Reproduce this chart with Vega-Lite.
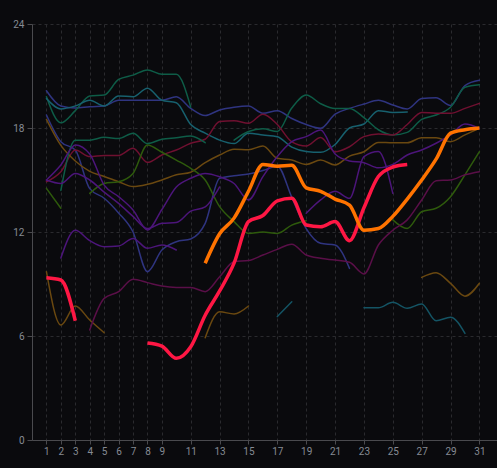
{
"$schema":"https://vega.github.io/schema/vega-lite/v6.json",
"width":465,"height":416,
"autosize":{"type":"none"},
"padding":{"left":32,"top":24,"right":0,"bottom":28},
"background":"#0a0a0d",
"config":{"view":{"stroke":null},"axis":{"labelFont":"Roboto","labelColor":"#868b94","labelFontSize":10,"domainColor":"#4a4a4e","tickColor":"#4a4a4e","gridColor":"#2a2a2e","gridDash":[3,3],"gridWidth":1}},
"datasets":{"pts":[
{"s":"n1","g":"n1","d":1,"v":20.15},{"s":"n1","g":"n1","d":2,"v":19.27},{"s":"n1","g":"n1","d":3,"v":19.15},{"s":"n1","g":"n1","d":4,"v":19.23},{"s":"n1","g":"n1","d":5,"v":19.27},{"s":"n1","g":"n1","d":6,"v":19.6},{"s":"n1","g":"n1","d":7,"v":19.6},{"s":"n1","g":"n1","d":8,"v":19.6},{"s":"n1","g":"n1","d":9,"v":19.6},{"s":"n1","g":"n1","d":10,"v":19.8},{"s":"n1","g":"n1","d":11,"v":19.13},{"s":"n1","g":"n1","d":12,"v":18.72},{"s":"n1","g":"n1","d":13,"v":19.04},{"s":"n1","g":"n1","d":14,"v":19.2},{"s":"n1","g":"n1","d":15,"v":19.27},{"s":"n1","g":"n1","d":16,"v":18.85},{"s":"n1","g":"n1","d":17,"v":19.0},{"s":"n1","g":"n1","d":18,"v":18.55},{"s":"n1","g":"n1","d":19,"v":18.2},{"s":"n1","g":"n1","d":20,"v":17.98},{"s":"n1","g":"n1","d":21,"v":18.8},{"s":"n1","g":"n1","d":22,"v":19.13},{"s":"n1","g":"n1","d":23,"v":19.38},{"s":"n1","g":"n1","d":24,"v":19.6},{"s":"n1","g":"n1","d":25,"v":19.33},{"s":"n1","g":"n1","d":26,"v":19.1},{"s":"n1","g":"n1","d":27,"v":19.7},{"s":"n1","g":"n1","d":28,"v":19.75},{"s":"n1","g":"n1","d":29,"v":19.3},{"s":"n1","g":"n1","d":30,"v":20.45},{"s":"n1","g":"n1","d":31,"v":20.75},
{"s":"n2","g":"n2","d":1,"v":18.75},{"s":"n2","g":"n2","d":2,"v":17.21},{"s":"n2","g":"n2","d":3,"v":16.73},{"s":"n2","g":"n2","d":4,"v":14.5},{"s":"n2","g":"n2","d":5,"v":13.95},{"s":"n2","g":"n2","d":6,"v":13.1},{"s":"n2","g":"n2","d":7,"v":12.0},{"s":"n2","g":"n2","d":8,"v":9.71},{"s":"n2","g":"n2","d":9,"v":10.96},{"s":"n2","g":"n2","d":10,"v":11.44},{"s":"n2","g":"n2","d":11,"v":11.6},{"s":"n2","g":"n2","d":12,"v":12.5},{"s":"n2","g":"n2","d":13,"v":15.1},{"s":"n2","g":"n2","d":14,"v":15.25},{"s":"n2","g":"n2","d":15,"v":15.35},{"s":"n2","g":"n2","d":16,"v":15.55},{"s":"n2","g":"n2","d":17,"v":15.8},{"s":"n2","g":"n2","d":18,"v":14.0},{"s":"n2","g":"n2","d":19,"v":12.2},{"s":"n2","g":"n2","d":20,"v":11.35},{"s":"n2","g":"n2","d":21,"v":11.25},{"s":"n2","g":"n2","d":22,"v":9.9},
{"s":"g1","g":"g1","d":1,"v":19.8},{"s":"g1","g":"g1","d":2,"v":18.3},{"s":"g1","g":"g1","d":3,"v":19.0},{"s":"g1","g":"g1","d":4,"v":19.85},{"s":"g1","g":"g1","d":5,"v":19.9},{"s":"g1","g":"g1","d":6,"v":20.8},{"s":"g1","g":"g1","d":7,"v":21.05},{"s":"g1","g":"g1","d":8,"v":21.35},{"s":"g1","g":"g1","d":9,"v":21.1},{"s":"g1","g":"g1","d":10,"v":21.1},{"s":"g1","g":"g1","d":11,"v":19.2},
{"s":"t1","g":"t1","d":1,"v":19.7},{"s":"t1","g":"t1","d":2,"v":19.1},{"s":"t1","g":"t1","d":3,"v":19.27},{"s":"t1","g":"t1","d":4,"v":19.6},{"s":"t1","g":"t1","d":5,"v":19.27},{"s":"t1","g":"t1","d":6,"v":19.85},{"s":"t1","g":"t1","d":7,"v":19.8},{"s":"t1","g":"t1","d":8,"v":20.3},{"s":"t1","g":"t1","d":9,"v":19.6},{"s":"t1","g":"t1","d":10,"v":19.46},{"s":"t1","g":"t1","d":11,"v":18.2},{"s":"t1","g":"t1","d":12,"v":17.7},{"s":"t1","g":"t1","d":13,"v":17.3},{"s":"t1","g":"t1","d":14,"v":17.1},{"s":"t1","g":"t1","d":15,"v":17.7},{"s":"t1","g":"t1","d":16,"v":17.6},{"s":"t1","g":"t1","d":17,"v":17.5},{"s":"t1","g":"t1","d":18,"v":16.9},{"s":"t1","g":"t1","d":19,"v":16.65},{"s":"t1","g":"t1","d":20,"v":16.6},{"s":"t1","g":"t1","d":21,"v":17.05},{"s":"t1","g":"t1","d":22,"v":18.0},{"s":"t1","g":"t1","d":23,"v":18.23},{"s":"t1","g":"t1","d":24,"v":19.0},{"s":"t1","g":"t1","d":25,"v":18.9},{"s":"t1","g":"t1","d":26,"v":18.92},
{"s":"g2","g":"g2","d":14,"v":17.3},{"s":"g2","g":"g2","d":15,"v":17.8},{"s":"g2","g":"g2","d":16,"v":17.95},{"s":"g2","g":"g2","d":17,"v":17.8},{"s":"g2","g":"g2","d":18,"v":19.15},{"s":"g2","g":"g2","d":19,"v":19.9},{"s":"g2","g":"g2","d":20,"v":19.4},{"s":"g2","g":"g2","d":21,"v":19.12},{"s":"g2","g":"g2","d":22,"v":19.13},{"s":"g2","g":"g2","d":23,"v":18.6},{"s":"g2","g":"g2","d":24,"v":17.9},{"s":"g2","g":"g2","d":25,"v":17.6},{"s":"g2","g":"g2","d":26,"v":17.75},{"s":"g2","g":"g2","d":27,"v":18.5},{"s":"g2","g":"g2","d":28,"v":18.75},{"s":"g2","g":"g2","d":29,"v":19.2},{"s":"g2","g":"g2","d":30,"v":20.35},{"s":"g2","g":"g2","d":31,"v":20.5},
{"s":"c1","g":"c1","d":1,"v":14.9},{"s":"c1","g":"c1","d":2,"v":15.48},{"s":"c1","g":"c1","d":3,"v":16.73},{"s":"c1","g":"c1","d":4,"v":16.35},{"s":"c1","g":"c1","d":5,"v":16.42},{"s":"c1","g":"c1","d":6,"v":16.42},{"s":"c1","g":"c1","d":7,"v":16.83},{"s":"c1","g":"c1","d":8,"v":16.02},{"s":"c1","g":"c1","d":9,"v":16.44},{"s":"c1","g":"c1","d":10,"v":16.73},{"s":"c1","g":"c1","d":11,"v":17.12},{"s":"c1","g":"c1","d":12,"v":17.35},{"s":"c1","g":"c1","d":13,"v":18.37},{"s":"c1","g":"c1","d":14,"v":18.42},{"s":"c1","g":"c1","d":15,"v":18.27},{"s":"c1","g":"c1","d":16,"v":18.79},{"s":"c1","g":"c1","d":17,"v":18.2},{"s":"c1","g":"c1","d":18,"v":17.2},{"s":"c1","g":"c1","d":19,"v":16.96},{"s":"c1","g":"c1","d":20,"v":17.45},{"s":"c1","g":"c1","d":21,"v":16.63},{"s":"c1","g":"c1","d":22,"v":16.92},{"s":"c1","g":"c1","d":23,"v":17.5},{"s":"c1","g":"c1","d":24,"v":17.65},{"s":"c1","g":"c1","d":25,"v":17.6},{"s":"c1","g":"c1","d":26,"v":18.2},{"s":"c1","g":"c1","d":27,"v":18.9},{"s":"c1","g":"c1","d":28,"v":18.85},{"s":"c1","g":"c1","d":29,"v":18.85},{"s":"c1","g":"c1","d":30,"v":19.13},{"s":"c1","g":"c1","d":31,"v":19.42},
{"s":"b1","g":"b1","d":1,"v":18.5},{"s":"b1","g":"b1","d":2,"v":17.0},{"s":"b1","g":"b1","d":3,"v":16.1},{"s":"b1","g":"b1","d":4,"v":15.5},{"s":"b1","g":"b1","d":5,"v":15.2},{"s":"b1","g":"b1","d":6,"v":14.9},{"s":"b1","g":"b1","d":7,"v":14.62},{"s":"b1","g":"b1","d":8,"v":14.75},{"s":"b1","g":"b1","d":9,"v":15.0},{"s":"b1","g":"b1","d":10,"v":15.3},{"s":"b1","g":"b1","d":11,"v":15.45},{"s":"b1","g":"b1","d":12,"v":16.0},{"s":"b1","g":"b1","d":13,"v":16.44},{"s":"b1","g":"b1","d":14,"v":16.77},{"s":"b1","g":"b1","d":15,"v":16.75},{"s":"b1","g":"b1","d":16,"v":16.96},{"s":"b1","g":"b1","d":17,"v":16.25},{"s":"b1","g":"b1","d":18,"v":16.15},{"s":"b1","g":"b1","d":19,"v":15.9},{"s":"b1","g":"b1","d":20,"v":16.15},{"s":"b1","g":"b1","d":21,"v":15.87},{"s":"b1","g":"b1","d":22,"v":16.38},{"s":"b1","g":"b1","d":23,"v":16.63},{"s":"b1","g":"b1","d":24,"v":17.17},{"s":"b1","g":"b1","d":25,"v":17.15},{"s":"b1","g":"b1","d":26,"v":17.15},{"s":"b1","g":"b1","d":27,"v":17.44},{"s":"b1","g":"b1","d":28,"v":17.44},{"s":"b1","g":"b1","d":29,"v":17.21},{"s":"b1","g":"b1","d":30,"v":17.6},{"s":"b1","g":"b1","d":31,"v":17.98},
{"s":"b2","g":"b2a","d":1,"v":9.71},{"s":"b2","g":"b2a","d":2,"v":6.63},{"s":"b2","g":"b2a","d":3,"v":7.73},{"s":"b2","g":"b2a","d":4,"v":6.92},{"s":"b2","g":"b2a","d":5,"v":6.19},
{"s":"b2","g":"b2b","d":12,"v":5.9},{"s":"b2","g":"b2b","d":13,"v":7.4},{"s":"b2","g":"b2b","d":14,"v":7.27},{"s":"b2","g":"b2b","d":15,"v":7.73},
{"s":"b2","g":"b2c","d":27,"v":9.38},{"s":"b2","g":"b2c","d":28,"v":9.65},{"s":"b2","g":"b2c","d":29,"v":9.04},{"s":"b2","g":"b2c","d":30,"v":8.3},{"s":"b2","g":"b2c","d":31,"v":9.04},
{"s":"gr","g":"gra","d":1,"v":14.52},{"s":"gr","g":"gra","d":2,"v":13.37},
{"s":"gr","g":"grb","d":4,"v":14.23},{"s":"gr","g":"grb","d":5,"v":14.8},{"s":"gr","g":"grb","d":6,"v":14.9},{"s":"gr","g":"grb","d":7,"v":15.38},{"s":"gr","g":"grb","d":8,"v":17.02},{"s":"gr","g":"grb","d":9,"v":16.6},{"s":"gr","g":"grb","d":10,"v":16.15},{"s":"gr","g":"grb","d":11,"v":15.67},{"s":"gr","g":"grb","d":12,"v":15.0},{"s":"gr","g":"grb","d":13,"v":13.46},{"s":"gr","g":"grb","d":14,"v":12.6},{"s":"gr","g":"grb","d":15,"v":11.92},{"s":"gr","g":"grb","d":16,"v":12.0},{"s":"gr","g":"grb","d":17,"v":11.92},{"s":"gr","g":"grb","d":18,"v":12.4},{"s":"gr","g":"grb","d":19,"v":12.65},
{"s":"gr","g":"grc","d":25,"v":12.7},{"s":"gr","g":"grc","d":26,"v":12.2},{"s":"gr","g":"grc","d":27,"v":13.17},{"s":"gr","g":"grc","d":28,"v":13.37},{"s":"gr","g":"grc","d":29,"v":14.04},{"s":"gr","g":"grc","d":30,"v":15.3},{"s":"gr","g":"grc","d":31,"v":16.63},
{"s":"g3","g":"g3","d":2,"v":14.4},{"s":"g3","g":"g3","d":3,"v":17.3},{"s":"g3","g":"g3","d":4,"v":17.3},{"s":"g3","g":"g3","d":5,"v":17.46},{"s":"g3","g":"g3","d":6,"v":17.4},{"s":"g3","g":"g3","d":7,"v":17.7},{"s":"g3","g":"g3","d":8,"v":17.1},{"s":"g3","g":"g3","d":9,"v":17.35},{"s":"g3","g":"g3","d":10,"v":17.44},{"s":"g3","g":"g3","d":11,"v":17.54},{"s":"g3","g":"g3","d":12,"v":17.15},
{"s":"p1","g":"p1","d":1,"v":15.0},{"s":"p1","g":"p1","d":2,"v":15.87},{"s":"p1","g":"p1","d":3,"v":17.02},{"s":"p1","g":"p1","d":4,"v":16.5},{"s":"p1","g":"p1","d":5,"v":14.7},{"s":"p1","g":"p1","d":6,"v":14.04},{"s":"p1","g":"p1","d":7,"v":13.27},{"s":"p1","g":"p1","d":8,"v":12.12},{"s":"p1","g":"p1","d":9,"v":13.3},{"s":"p1","g":"p1","d":10,"v":14.6},{"s":"p1","g":"p1","d":11,"v":15.1},{"s":"p1","g":"p1","d":12,"v":15.38},{"s":"p1","g":"p1","d":13,"v":15.19},{"s":"p1","g":"p1","d":14,"v":14.8},{"s":"p1","g":"p1","d":15,"v":13.85},{"s":"p1","g":"p1","d":16,"v":15.19},{"s":"p1","g":"p1","d":17,"v":16.35},{"s":"p1","g":"p1","d":18,"v":17.21},{"s":"p1","g":"p1","d":19,"v":17.5},{"s":"p1","g":"p1","d":20,"v":17.88},{"s":"p1","g":"p1","d":21,"v":16.5},{"s":"p1","g":"p1","d":22,"v":16.1},{"s":"p1","g":"p1","d":23,"v":16.0},{"s":"p1","g":"p1","d":24,"v":15.7},{"s":"p1","g":"p1","d":25,"v":15.9},{"s":"p1","g":"p1","d":26,"v":16.44},{"s":"p1","g":"p1","d":27,"v":16.73},{"s":"p1","g":"p1","d":28,"v":17.12},{"s":"p1","g":"p1","d":29,"v":17.6},{"s":"p1","g":"p1","d":30,"v":18.23},{"s":"p1","g":"p1","d":31,"v":17.98},
{"s":"p2","g":"p2","d":1,"v":15.0},{"s":"p2","g":"p2","d":2,"v":14.8},{"s":"p2","g":"p2","d":3,"v":15.38},{"s":"p2","g":"p2","d":4,"v":15.0},{"s":"p2","g":"p2","d":5,"v":14.3},{"s":"p2","g":"p2","d":6,"v":13.65},{"s":"p2","g":"p2","d":7,"v":12.9},{"s":"p2","g":"p2","d":8,"v":12.2},{"s":"p2","g":"p2","d":9,"v":12.5},{"s":"p2","g":"p2","d":10,"v":12.55},{"s":"p2","g":"p2","d":11,"v":13.2},{"s":"p2","g":"p2","d":12,"v":13.45},{"s":"p2","g":"p2","d":13,"v":14.6},
{"s":"p3","g":"p3","d":2,"v":10.5},{"s":"p3","g":"p3","d":3,"v":12.1},{"s":"p3","g":"p3","d":4,"v":11.5},{"s":"p3","g":"p3","d":5,"v":11.15},{"s":"p3","g":"p3","d":6,"v":11.19},{"s":"p3","g":"p3","d":7,"v":11.63},{"s":"p3","g":"p3","d":8,"v":11.06},{"s":"p3","g":"p3","d":9,"v":11.25},{"s":"p3","g":"p3","d":10,"v":10.96},
{"s":"p4","g":"p4","d":19,"v":13.08},{"s":"p4","g":"p4","d":20,"v":13.85},{"s":"p4","g":"p4","d":21,"v":14.35},{"s":"p4","g":"p4","d":22,"v":13.94},{"s":"p4","g":"p4","d":23,"v":16.35},{"s":"p4","g":"p4","d":24,"v":16.65},{"s":"p4","g":"p4","d":25,"v":14.23},
{"s":"m1","g":"m1","d":4,"v":6.35},{"s":"m1","g":"m1","d":5,"v":8.17},{"s":"m1","g":"m1","d":6,"v":8.56},{"s":"m1","g":"m1","d":7,"v":9.27},{"s":"m1","g":"m1","d":8,"v":9.08},{"s":"m1","g":"m1","d":9,"v":8.88},{"s":"m1","g":"m1","d":10,"v":8.8},{"s":"m1","g":"m1","d":11,"v":8.8},{"s":"m1","g":"m1","d":12,"v":8.56},{"s":"m1","g":"m1","d":13,"v":9.42},{"s":"m1","g":"m1","d":14,"v":10.29},{"s":"m1","g":"m1","d":15,"v":10.35},{"s":"m1","g":"m1","d":16,"v":10.67},{"s":"m1","g":"m1","d":17,"v":11.0},{"s":"m1","g":"m1","d":18,"v":11.3},{"s":"m1","g":"m1","d":19,"v":10.67},{"s":"m1","g":"m1","d":20,"v":10.48},{"s":"m1","g":"m1","d":21,"v":10.38},{"s":"m1","g":"m1","d":22,"v":10.25},{"s":"m1","g":"m1","d":23,"v":9.58},{"s":"m1","g":"m1","d":24,"v":11.25},{"s":"m1","g":"m1","d":25,"v":12.1},{"s":"m1","g":"m1","d":26,"v":12.7},{"s":"m1","g":"m1","d":27,"v":13.85},{"s":"m1","g":"m1","d":28,"v":14.96},{"s":"m1","g":"m1","d":29,"v":15.0},{"s":"m1","g":"m1","d":30,"v":15.3},{"s":"m1","g":"m1","d":31,"v":15.48},
{"s":"t2","g":"t2a","d":17,"v":7.12},{"s":"t2","g":"t2a","d":18,"v":7.98},
{"s":"t2","g":"t2b","d":23,"v":7.63},{"s":"t2","g":"t2b","d":24,"v":7.63},{"s":"t2","g":"t2b","d":25,"v":7.94},{"s":"t2","g":"t2b","d":26,"v":7.6},{"s":"t2","g":"t2b","d":27,"v":7.85},{"s":"t2","g":"t2b","d":28,"v":6.88},{"s":"t2","g":"t2b","d":29,"v":7.08},{"s":"t2","g":"t2b","d":30,"v":6.15},
{"s":"red","g":"reda","d":1,"v":9.36},{"s":"red","g":"reda","d":2,"v":9.23},{"s":"red","g":"reda","d":3,"v":6.88},
{"s":"red","g":"redb","d":8,"v":5.6},{"s":"red","g":"redb","d":9,"v":5.42},{"s":"red","g":"redb","d":10,"v":4.71},{"s":"red","g":"redb","d":11,"v":5.38},{"s":"red","g":"redb","d":12,"v":7.2},{"s":"red","g":"redb","d":13,"v":8.6},{"s":"red","g":"redb","d":14,"v":10.2},{"s":"red","g":"redb","d":15,"v":12.6},{"s":"red","g":"redb","d":16,"v":12.95},{"s":"red","g":"redb","d":17,"v":13.8},{"s":"red","g":"redb","d":18,"v":13.95},{"s":"red","g":"redb","d":19,"v":12.4},{"s":"red","g":"redb","d":20,"v":12.3},{"s":"red","g":"redb","d":21,"v":12.6},{"s":"red","g":"redb","d":22,"v":11.5},{"s":"red","g":"redb","d":23,"v":13.4},{"s":"red","g":"redb","d":24,"v":15.2},{"s":"red","g":"redb","d":25,"v":15.75},{"s":"red","g":"redb","d":26,"v":15.9},
{"s":"org","g":"org","d":12,"v":10.2},{"s":"org","g":"org","d":13,"v":11.9},{"s":"org","g":"org","d":14,"v":12.8},{"s":"org","g":"org","d":15,"v":14.35},{"s":"org","g":"org","d":16,"v":15.9},{"s":"org","g":"org","d":17,"v":15.8},{"s":"org","g":"org","d":18,"v":15.85},{"s":"org","g":"org","d":19,"v":14.55},{"s":"org","g":"org","d":20,"v":14.35},{"s":"org","g":"org","d":21,"v":13.9},{"s":"org","g":"org","d":22,"v":13.55},{"s":"org","g":"org","d":23,"v":12.1},{"s":"org","g":"org","d":24,"v":12.2},{"s":"org","g":"org","d":25,"v":12.9},{"s":"org","g":"org","d":26,"v":13.9},{"s":"org","g":"org","d":27,"v":15.0},{"s":"org","g":"org","d":28,"v":16.2},{"s":"org","g":"org","d":29,"v":17.7},{"s":"org","g":"org","d":30,"v":17.9},{"s":"org","g":"org","d":31,"v":18.0}
]},
"data":{"name":"pts"},
"encoding":{
"x":{"field":"d","type":"quantitative","scale":{"domain":[0,32.22],"nice":false,"zero":false},"axis":{"title":null,"values":[1,2,3,4,5,6,7,8,9,11,13,15,17,19,21,23,25,27,29,31],"grid":true,"tickSize":4,"labelPadding":2,"labelFlush":false,"labelOverlap":false}},
"y":{"field":"v","type":"quantitative","scale":{"domain":[0,24],"nice":false},"axis":{"title":null,"values":[0,6,12,18,24],"grid":true,"tickSize":5,"labelPadding":3}},
"color":{"field":"s","type":"nominal","legend":null,"scale":{"domain":["n1","n2","g1","g2","g3","t1","t2","c1","b1","b2","gr","p1","p2","p3","p4","m1","red","org"],"range":["#2f3480","#2f3480","#0e5c47","#0e5c47","#0e5c47","#17606e","#145464","#6f1030","#6a4810","#6a4810","#2e5a0c","#4c157a","#4c157a","#4c157a","#4c157a","#5a0f48","#ff1744","#ff7300"]}},
"detail":{"field":"g","type":"nominal"}
},
"layer":[
{"transform":[{"filter":"datum.s !== 'red' && datum.s !== 'org'"}],"mark":{"type":"line","interpolate":"monotone","strokeWidth":1.5,"strokeCap":"round"}},
{"transform":[{"filter":"datum.s === 'red' || datum.s === 'org'"}],"mark":{"type":"line","interpolate":"monotone","strokeWidth":3.5,"strokeCap":"butt"}}
]
}
